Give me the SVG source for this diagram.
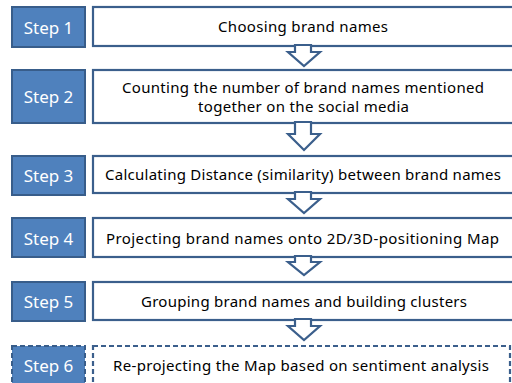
<svg xmlns="http://www.w3.org/2000/svg" width="512" height="383" viewBox="0 0 512 383">
<style>
.lab{fill:#4F81BD;stroke:#385D8A;stroke-width:2}
.box{fill:#FFFFFF;stroke:#3B5F8C;stroke-width:2.2}
.dash{stroke-dasharray:5 3}
.lt{font-family:"Noto Sans","Liberation Sans",sans-serif;font-size:17px;fill:#FFFFFF;text-anchor:middle}
.bt{font-family:"Noto Sans","Liberation Sans",sans-serif;font-size:15px;fill:#000000}
.arr{fill:#FFFFFF;stroke:#3B5F8C;stroke-width:2.2;stroke-linejoin:miter}
</style>
<rect width="512" height="383" fill="#FFFFFF"/>
<g id="step1">
<rect class="lab" x="12" y="7" width="73" height="40"/>
<text class="lt" x="48.5" y="34">Step 1</text>
<rect class="box" x="93" y="7" width="440" height="39"/>
<text class="bt" x="218" y="32" textLength="170" lengthAdjust="spacing">Choosing brand names</text>
</g>
<g id="step2">
<rect class="lab" x="12" y="70" width="73" height="53"/>
<text class="lt" x="48.5" y="103">Step 2</text>
<rect class="box" x="93" y="70" width="440" height="53"/>
<text class="bt" x="122" y="93" textLength="362" lengthAdjust="spacing">Counting the number of brand names mentioned</text>
<text class="bt" x="198" y="112" textLength="211" lengthAdjust="spacing">together on the social media</text>
</g>
<g id="step3">
<rect class="lab" x="12" y="156" width="73" height="39"/>
<text class="lt" x="48.5" y="182">Step 3</text>
<rect class="box" x="93" y="156" width="440" height="37"/>
<text class="bt" x="105" y="180" textLength="396" lengthAdjust="spacing">Calculating Distance (similarity) between brand names</text>
</g>
<g id="step4">
<rect class="lab" x="12" y="218" width="73" height="39"/>
<text class="lt" x="48.5" y="245">Step 4</text>
<rect class="box" x="93" y="218" width="440" height="39"/>
<text class="bt" x="106" y="244" textLength="393" lengthAdjust="spacing">Projecting brand names onto 2D/3D-positioning Map</text>
</g>
<g id="step5">
<rect class="lab" x="12" y="282" width="73" height="39"/>
<text class="lt" x="48.5" y="308">Step 5</text>
<rect class="box" x="93" y="282" width="440" height="38"/>
<text class="bt" x="141" y="307" textLength="326" lengthAdjust="spacing">Grouping brand names and building clusters</text>
</g>
<g id="step6">
<rect class="lab dash" x="12" y="346" width="73" height="45"/>
<text class="lt" x="48.5" y="372">Step 6</text>
<rect class="box dash" x="93" y="346" width="417" height="45"/>
<text class="bt" x="113" y="371" textLength="376" lengthAdjust="spacing">Re-projecting the Map based on sentiment analysis</text>
</g>
<g id="connectors">
<polygon class="arr" points="295,45 311,45 311,52 320,52 304,66 288,52 295,52"/>
<polygon class="arr" points="295,122 311,122 311,134 320,134 304,150 288,134 295,134"/>
<polygon class="arr" points="295,192 311,192 311,199 320,199 304,213 288,199 295,199"/>
<polygon class="arr" points="295,256 311,256 311,262 320,262 304,275 288,262 295,262"/>
<polygon class="arr" points="295,319 311,319 311,326 320,326 304,340 288,326 295,326"/>
</g>
</svg>
